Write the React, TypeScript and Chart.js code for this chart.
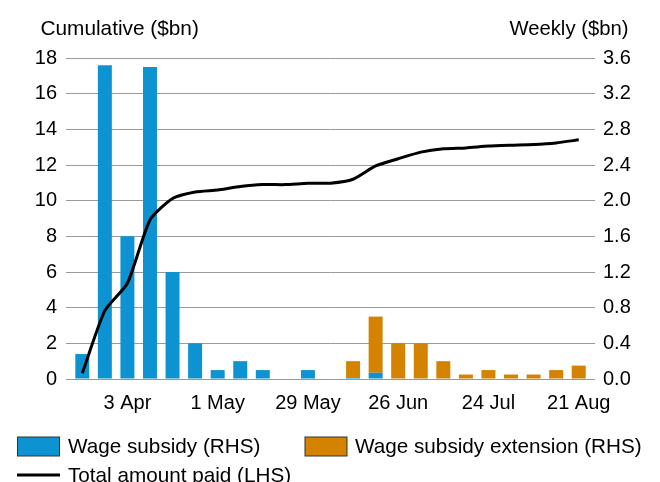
import React, { useEffect, useRef } from "react";
import { Chart, registerables } from "chart.js";

Chart.register(...registerables);

const weeks = [
  "20 Mar", "27 Mar", "3 Apr", "10 Apr", "17 Apr", "24 Apr", "1 May", "8 May",
  "15 May", "22 May", "29 May", "5 Jun", "12 Jun", "19 Jun", "26 Jun", "3 Jul",
  "10 Jul", "17 Jul", "24 Jul", "31 Jul", "7 Aug", "14 Aug", "21 Aug",
];

const wageSubsidy = [
  0.28, 3.52, 1.6, 3.5, 1.2, 0.4, 0.1, 0.2, 0.1, 0, 0.1, 0, 0.02, 0.07,
  0, 0, 0, 0, 0, 0, 0, 0, 0,
];

const wageSubsidyExtension = [
  0, 0, 0, 0, 0, 0, 0, 0, 0, 0, 0, 0, 0.18, 0.63,
  0.4, 0.4, 0.2, 0.05, 0.1, 0.05, 0.05, 0.1, 0.15,
];

const totalPaid = [
  0.32, 3.83, 5.37, 8.92, 10.12, 10.49, 10.6, 10.79, 10.9, 10.9, 10.98, 10.98,
  11.2, 11.95, 12.35, 12.72, 12.91, 12.96, 13.06, 13.11, 13.15, 13.24, 13.41,
];

const shownTickLabels = ["3 Apr", "1 May", "29 May", "26 Jun", "24 Jul", "21 Aug"];

const BLUE = "#0E93D2";
const ORANGE = "#D38300";
const FONT = "'Liberation Sans', Arial, sans-serif";

const overlayPlugin = {
  id: "overlay",
  afterDraw(chart: any) {
    const ctx = chart.ctx;
    ctx.save();
    ctx.fillStyle = "#000";
    ctx.textBaseline = "alphabetic";
    ctx.textAlign = "left";
    ctx.font = `20.8px ${FONT}`;
    ctx.fillText("Cumulative ($bn)", 40.5, 35);
    ctx.textAlign = "right";
    ctx.font = `20.3px ${FONT}`;
    ctx.fillText("Weekly ($bn)", 628.5, 35);

    // legend
    ctx.font = `20.7px ${FONT}`;
    ctx.textAlign = "left";
    ctx.lineWidth = 1;
    ctx.strokeStyle = "#333";
    ctx.fillStyle = BLUE;
    ctx.fillRect(17.5, 437, 42, 19);
    ctx.strokeRect(17.5, 437, 42, 19);
    ctx.fillStyle = ORANGE;
    ctx.fillRect(305, 437, 42, 19);
    ctx.strokeRect(305, 437, 42, 19);
    ctx.fillStyle = "#000";
    ctx.fillText("Wage subsidy (RHS)", 68, 453);
    ctx.fillText("Wage subsidy extension (RHS)", 355, 453);
    ctx.beginPath();
    ctx.lineWidth = 3;
    ctx.strokeStyle = "#000";
    ctx.moveTo(17, 475);
    ctx.lineTo(60, 475);
    ctx.stroke();
    ctx.fillText("Total amount paid (LHS)", 68, 481.5);
    ctx.restore();
  },
};

export default function App() {
  const ref = useRef<HTMLCanvasElement | null>(null);

  useEffect(() => {
    if (!ref.current) return;
    const chart = new Chart(ref.current, {
      type: "bar",
      data: {
        labels: weeks,
        datasets: [
          {
            type: "line",
            label: "Total amount paid (LHS)",
            data: totalPaid,
            yAxisID: "y",
            borderColor: "#000",
            borderWidth: 3,
            pointRadius: 0,
            tension: 0.2,
            fill: false,
            order: 0,
          } as any,
          {
            type: "bar",
            label: "Wage subsidy (RHS)",
            data: wageSubsidy,
            yAxisID: "y1",
            backgroundColor: BLUE,
            borderWidth: 0,
            categoryPercentage: 1,
            barPercentage: 0.62,
            order: 1,
          },
          {
            type: "bar",
            label: "Wage subsidy extension (RHS)",
            data: wageSubsidyExtension,
            yAxisID: "y1",
            backgroundColor: ORANGE,
            borderWidth: 0,
            categoryPercentage: 1,
            barPercentage: 0.62,
            order: 1,
          },
        ],
      },
      options: {
        responsive: false,
        animation: false,
        layout: { padding: { top: 58, left: 0, right: 0, bottom: 0 } },
        plugins: { legend: { display: false }, tooltip: { enabled: false } },
        scales: {
          x: {
            stacked: true,
            grid: { display: false },
            border: { display: false },
            ticks: {
              autoSkip: false,
              maxRotation: 0,
              minRotation: 0,
              padding: 4,
              color: "#000",
              font: { family: FONT, size: 20 },
              callback: (_v: any, i: number) =>
                shownTickLabels.includes(weeks[i]) ? weeks[i] : "",
            },
            afterFit: (s: any) => {
              s.height = 103;
            },
          },
          y: {
            position: "left",
            min: 0,
            max: 18,
            grid: { color: "#9a9a9a", lineWidth: 1, tickLength: 5, drawTicks: true },
            border: { display: false },
            ticks: {
              stepSize: 2,
              padding: 9,
              color: "#000",
              font: { family: FONT, size: 20 },
            },
            afterFit: (s: any) => {
              s.width = 71;
            },
          },
          y1: {
            position: "right",
            stacked: true,
            min: 0,
            max: 3.6,
            grid: {
              color: "#9a9a9a",
              lineWidth: 1,
              tickLength: 5,
              drawOnChartArea: false,
              drawTicks: true,
            },
            border: { display: false },
            ticks: {
              stepSize: 0.4,
              padding: 8,
              color: "#000",
              font: { family: FONT, size: 20 },
              callback: (v: any) => Number(v).toFixed(1),
            },
            afterFit: (s: any) => {
              s.width = 70;
            },
          },
        },
      },
      plugins: [overlayPlugin],
    });
    return () => chart.destroy();
  }, []);

  return (
    <div style={{ position: "absolute", left: 0, top: 0, width: 660, height: 482 }}>
      <canvas ref={ref} width={660} height={482} style={{ width: 660, height: 482 }} />
    </div>
  );
}
